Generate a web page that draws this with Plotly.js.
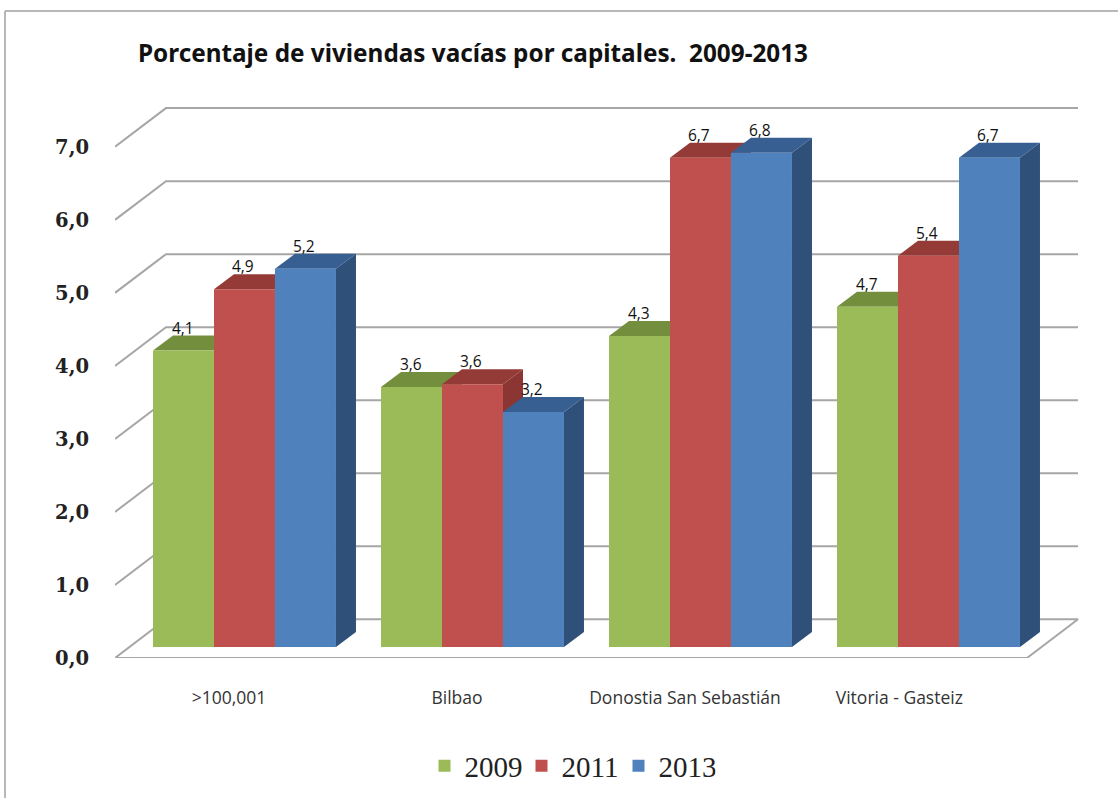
<!DOCTYPE html>
<html>
<head>
<meta charset="utf-8">
<script src="https://cdn.plot.ly/plotly-3.0.1.min.js"></script>
<style>html,body{margin:0;padding:0;background:#fff}</style>
</head>
<body>
<div id="chart" style="width:1118px;height:798px"></div>
<script>
const titleText = "Porcentaje de viviendas vacías por capitales.  2009-2013";
const categories = [">100,001", "Bilbao", "Donostia San Sebastián", "Vitoria - Gasteiz"];
const seriesNames = ["2009", "2011", "2013"];
const values2009 = [4.06, 3.56, 4.26, 4.66];
const values2011 = [4.9, 3.6, 6.7, 5.36];
const values2013 = [5.18, 3.22, 6.77, 6.7];
const yTicks = [0, 1, 2, 3, 4, 5, 6, 7];

const allValues = [values2009, values2011, values2013];
const frontColors = ["#9BBB59", "#C0504D", "#4F81BD"];
const topColors = ["#738F3D", "#943B38", "#385F92"];
const sideColors = ["#6E8A3A", "#8C3634", "#2F5078"];
const gridColor = "#A6A6A6";

// Oblique projection, in axis units
const barW = 0.2675, groupShift = -0.3333, depthX = 0.0877, depthY = 0.205;
const wallX = 0.2237, wallY = 0.53, nCat = categories.length;
const catPos = categories.map((c, i) => i + 0.5);
const labelPos = [0.5, 1.5, 2.5, 3.44];
const fmt = v => v.toFixed(1).replace(".", ",");

const traces = [];
// Walls: grid lines and floor, on the labelled axis
yTicks.forEach(t => {
  const xs = t === 0 ? [0, wallX, nCat + wallX, nCat, 0] : [0, wallX, nCat + wallX];
  const ys = t === 0 ? [t, t + wallY, t + wallY, t, t] : [t, t + wallY, t + wallY];
  traces.push({type:"scatter", mode:"lines", x:xs, y:ys, xaxis:"x", yaxis:"y", cliponaxis:false,
    line:{color:gridColor, width:2}, showlegend:false, hoverinfo:"skip"});
});
// Top and side faces, on the axis whose zero is the base of the bars
allValues.forEach((vals, j) => {
  const tx = [], ty = [], sx = [], sy = [];
  vals.forEach((v, i) => {
    const x0 = catPos[i] + groupShift + j * barW, x1 = x0 + barW;
    tx.push(x0, x0 + depthX, x1 + depthX, x1, x0, null);
    ty.push(v, v + depthY, v + depthY, v, v, null);
    sx.push(x1, x1 + depthX, x1 + depthX, x1, x1, null);
    sy.push(0, depthY, v + depthY, v, 0, null);
  });
  traces.push({type:"scatter", mode:"lines", x:sx, y:sy, xaxis:"x", yaxis:"y2", fill:"toself",
    fillcolor:sideColors[j], line:{width:0, color:sideColors[j]}, showlegend:false, hoverinfo:"skip"});
  traces.push({type:"scatter", mode:"lines", x:tx, y:ty, xaxis:"x", yaxis:"y2", fill:"toself",
    fillcolor:topColors[j], line:{width:0, color:topColors[j]}, showlegend:false, hoverinfo:"skip"});
});
// Front faces
allValues.forEach((vals, j) => {
  traces.push({type:"bar", name:seriesNames[j], x:catPos, y:vals, xaxis:"x", yaxis:"y3",
    width:barW, offset:groupShift + j * barW, marker:{color:frontColors[j], line:{width:0}}});
});

const annotations = [];
allValues.forEach((vals, j) => vals.forEach((v, i) => {
  annotations.push({x:catPos[i] + groupShift + (j + 0.5) * barW, y:v, xref:"x", yref:"y3",
    text:fmt(v), showarrow:false, yanchor:"middle", yshift:23, xshift:-1,
    font:{family:"Open Sans, sans-serif", size:15.5, color:"#111"}});
}));

const W = 1118, H = 798, ml = 115, mr = 38, mt = 103, mb = 140;
const px = v => (v - ml) / (W - ml - mr), py = v => (H - mb - v) / (H - mt - mb);
const layout = {
  width:W, height:H, paper_bgcolor:"#fff", plot_bgcolor:"rgba(0,0,0,0)",
  margin:{l:ml, r:mr, t:mt, b:mb, pad:0}, barmode:"overlay", separators:", ",
  title:{text:"<b>" + titleText + "</b>", x:138/W, xanchor:"left", y:1-53/H, yanchor:"middle",
    font:{family:"Noto Sans, sans-serif", size:24.3, color:"#111"}},
  xaxis:{range:[0, (W - ml - mr) / 228], tickmode:"array", tickvals:labelPos, ticktext:categories,
    showgrid:false, zeroline:false, showline:false, ticks:"", ticklabelstandoff:27,
    tickfont:{family:"Open Sans, sans-serif", size:17.5, color:"#333"}},
  yaxis:{range:[0, 7.6], tickmode:"array", tickvals:yTicks, ticktext:yTicks.map(v => "<b>" + fmt(v) + "</b>"), showgrid:false,
    zeroline:false, showline:false, ticks:"", ticklabelstandoff:25,
    tickfont:{family:"DejaVu Serif, serif", size:19.5, color:"#222"}},
  yaxis2:{range:[-0.15, 7.45], overlaying:"y", visible:false},
  yaxis3:{range:[-0.15, 7.45], overlaying:"y", visible:false},
  legend:{orientation:"h", x:570/W, xref:"container", xanchor:"center", y:1-766/H, yref:"container", yanchor:"middle",
    traceorder:"normal", itemwidth:30, entrywidth:52, entrywidthmode:"pixels",
    font:{family:"Liberation Serif, serif", size:29, color:"#222"}},
  shapes:[{type:"line", xref:"paper", yref:"paper", x0:px(5), x1:px(1118), y0:py(11), y1:py(11), layer:"below", line:{color:"#A0A0A0", width:1.5}},
          {type:"line", xref:"paper", yref:"paper", x0:px(5), x1:px(5), y0:py(11), y1:py(798), layer:"below", line:{color:"#A0A0A0", width:1.5}}],
  annotations:annotations, showlegend:true
};
Plotly.newPlot("chart", traces, layout, {displayModeBar:false, staticPlot:true});
</script>
</body>
</html>
